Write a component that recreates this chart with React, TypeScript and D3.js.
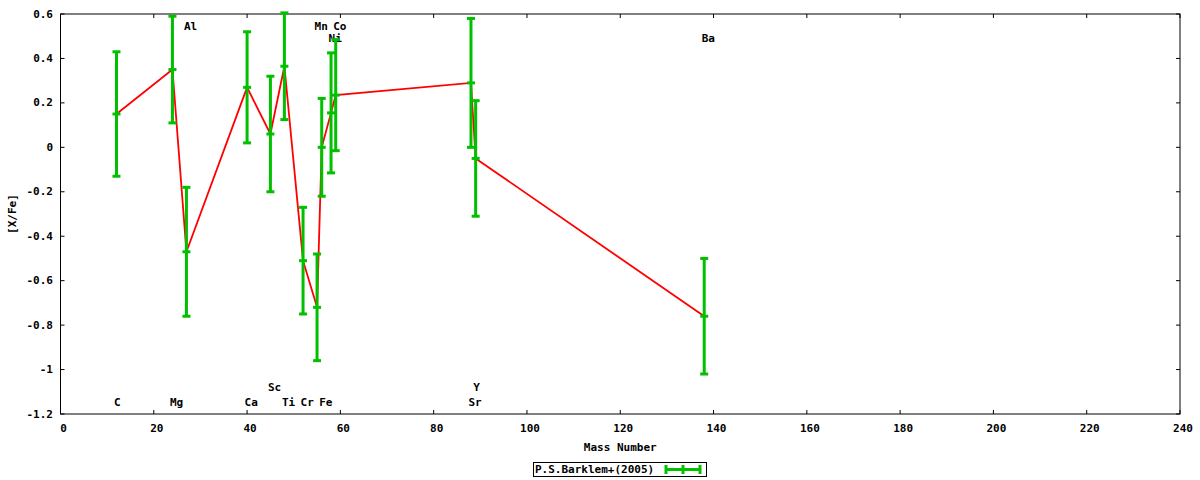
import React from 'react';
import * as d3 from 'd3';

const elements = ['C', 'Mg', 'Al', 'Ca', 'Sc', 'Ti', 'Cr', 'Mn', 'Fe', 'Ni', 'Co', 'Sr', 'Y', 'Ba'];
const massNumber = [12, 24, 27, 40, 45, 48, 52, 55, 56, 58, 59, 88, 89, 138];
const xFe = [0.15, 0.35, -0.47, 0.27, 0.06, 0.365, -0.51, -0.72, 0.0, 0.155, 0.235, 0.29, -0.05, -0.76];
const xFeErr = [0.28, 0.24, 0.29, 0.25, 0.26, 0.24, 0.24, 0.24, 0.22, 0.27, 0.25, 0.29, 0.26, 0.26];
// vertical position (data units) of each element's name
const labelRow = [-1.15, -1.15, 0.545, -1.15, -1.08, -1.15, -1.15, 0.545, -1.15, 0.49, 0.545, -1.15, -1.08, 0.49];

const xTicks = [0, 20, 40, 60, 80, 100, 120, 140, 160, 180, 200, 220, 240];
const yTicks = [0.6, 0.4, 0.2, 0, -0.2, -0.4, -0.6, -0.8, -1, -1.2];

const seriesName = 'P.S.Barklem+(2005)';

const W = 1200;
const H = 480;
const margin = { top: 14, right: 20, bottom: 66, left: 60.5 };
const FONT = "'DejaVu Sans Mono', monospace";
const GREEN = '#00c000';
const RED = '#ff0000';

const fmt = (v: number) => String(+v.toFixed(1));

export default function App() {
  const x = d3.scaleLinear().domain([0, 240]).range([margin.left, W - margin.right]);
  const y = d3.scaleLinear().domain([-1.2, 0.6]).range([H - margin.bottom, margin.top]);

  const pts = massNumber.map((m, i) => ({ m, v: xFe[i], e: xFeErr[i], name: elements[i], ly: labelRow[i] }));
  const line = d3.line<{ m: number; v: number }>().x(d => x(d.m)).y(d => y(d.v));

  const x0 = x(0), x1 = x(240), y0 = y(-1.2), y1 = y(0.6);
  const tick = 4;
  const cap = 4;

  return (
    <svg width={W} height={H} style={{ position: 'absolute', left: 0, top: 0, background: '#fff' }}
      fontFamily={FONT} fontSize={11} fontWeight="bold">
      {/* ticks */}
      {xTicks.map(t => (
        <g key={'xt' + t}>
          <line x1={x(t)} x2={x(t)} y1={y0} y2={y0 - tick} stroke="#000" />
          <line x1={x(t)} x2={x(t)} y1={y1} y2={y1 + tick} stroke="#000" />
          <text x={x(t) + 3} y={428} textAnchor="middle" dominantBaseline="central">{fmt(t)}</text>
        </g>
      ))}
      {yTicks.map(t => (
        <g key={'yt' + t}>
          <line x1={x0} x2={x0 + tick} y1={y(t)} y2={y(t)} stroke="#000" />
          <line x1={x1} x2={x1 - tick} y1={y(t)} y2={y(t)} stroke="#000" />
          <text x={53} y={y(t)} textAnchor="end" dominantBaseline="central">{fmt(t)}</text>
        </g>
      ))}
      <rect x={x0} y={y1} width={x1 - x0} height={y0 - y1} fill="none" stroke="#000" />

      {/* axis titles */}
      <text x={(x0 + x1) / 2} y={447} textAnchor="middle" dominantBaseline="central">Mass Number</text>
      <text transform={`translate(12,${(y0 + y1) / 2}) rotate(-90)`} textAnchor="middle" dominantBaseline="central">[X/Fe]</text>

      {/* element names */}
      {pts.map(p => (
        <text key={'lb' + p.name} x={x(p.m) - 2.5} y={y(p.ly)} dominantBaseline="central">{p.name}</text>
      ))}

      {/* connecting line */}
      <path d={line(pts) || ''} fill="none" stroke={RED} strokeWidth={1.8} />

      {/* error bars */}
      {pts.map(p => (
        <g key={'eb' + p.name} stroke={GREEN} strokeWidth={3}>
          <line x1={x(p.m)} x2={x(p.m)} y1={y(p.v + p.e)} y2={y(p.v - p.e)} />
          <line x1={x(p.m) - cap} x2={x(p.m) + cap} y1={y(p.v + p.e)} y2={y(p.v + p.e)} />
          <line x1={x(p.m) - cap} x2={x(p.m) + cap} y1={y(p.v - p.e)} y2={y(p.v - p.e)} />
          <line x1={x(p.m) - cap} x2={x(p.m) + cap} y1={y(p.v)} y2={y(p.v)} />
        </g>
      ))}

      {/* legend */}
      <rect x={533.5} y={462.5} width={173} height={14} fill="#fff" stroke="#000" />
      <text x={535} y={469.5} dominantBaseline="central">{seriesName}</text>
      <g stroke={GREEN} strokeWidth={3}>
        <line x1={666} x2={700} y1={469.5} y2={469.5} />
        <line x1={666} x2={666} y1={465} y2={474} />
        <line x1={700} x2={700} y1={465} y2={474} />
        <line x1={683} x2={683} y1={465} y2={474} />
      </g>
    </svg>
  );
}
